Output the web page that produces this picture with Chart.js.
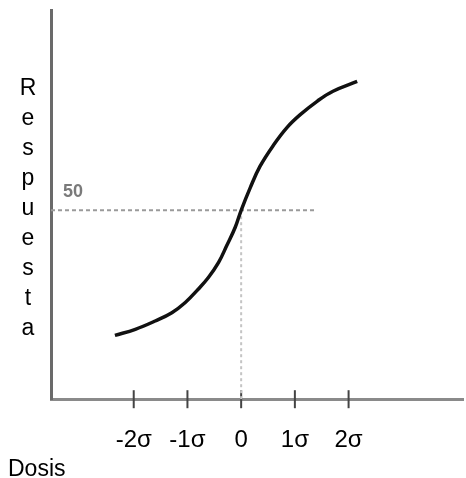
<!DOCTYPE html>
<html>
<head>
<meta charset="utf-8">
<script src="https://cdn.jsdelivr.net/npm/chart.js@4/dist/chart.umd.min.js"></script>
<style>
  html, body { margin: 0; padding: 0; background: #fff; }
  #wrap { position: relative; width: 466px; height: 478px; font-family: 'Liberation Sans', Arial, sans-serif; }
  #chart { position: absolute; left: 0; top: 0; }
  #yTitle { position: absolute; left: 17px; top: 72px; width: 22px; text-align: center; font-size: 23px; line-height: 30px; color: #000; }
  #xTitle { position: absolute; left: 8px; top: 457px; font-size: 23px; line-height: 23px; color: #000; }
  #midLabel { position: absolute; left: 63px; top: 182px; font-size: 18px; line-height: 18px; font-weight: bold; color: #7a7a7a; }
</style>
</head>
<body>
<div id="wrap">
  <canvas id="chart" width="466" height="478"></canvas>
  <div id="yTitle">R<br>e<br>s<br>p<br>u<br>e<br>s<br>t<br>a</div>
  <div id="xTitle">Dosis</div>
  <div id="midLabel">50</div>
</div>
<script>
// dosis en unidades de sigma, respuesta en %
const doseSigma = [-2.35, -1.97, -1.60, -1.29, -1.04, -0.80, -0.61, -0.42, -0.27, -0.11, 0, 0.17, 0.35, 0.60, 0.86, 1.10, 1.42, 1.71, 2.16];
const response = [16.9, 18.5, 20.7, 22.9, 25.6, 29.1, 32.2, 36.2, 40.6, 45.5, 50, 56.0, 61.6, 67.2, 72.0, 75.3, 78.9, 81.5, 84.1];

const tickValues = [-2, -1, 0, 1, 2];
const tickLabels = ['-2σ', '-1σ', '0', '1σ', '2σ'];

const xMin = -3.54;
const xMax = 4.13;
const yMax = 103;
const midResponse = 50;
const midLineEnd = 1.38;

const curve = doseSigma.map((d, i) => ({ x: d, y: response[i] }));

new Chart(document.getElementById('chart'), {
  type: 'line',
  data: {
    datasets: [
      {
        label: 'curva',
        data: curve,
        borderColor: '#111',
        borderWidth: 3.5,
        pointRadius: 0,
        tension: 0.4,
        fill: false
      },
      {
        label: '50h',
        data: [{ x: xMin, y: midResponse }, { x: midLineEnd, y: midResponse }],
        borderColor: '#9a9a9a',
        borderWidth: 2,
        borderDash: [4, 3],
        pointRadius: 0
      },
      {
        label: '50v',
        data: [{ x: 0, y: 0 }, { x: 0, y: midResponse }],
        borderColor: '#c4c4c4',
        borderWidth: 2,
        borderDash: [3, 3],
        pointRadius: 0
      },
      {
        label: 'marcas',
        data: tickValues.map(v => ({ x: v, y: 0 })),
        showLine: false,
        pointStyle: 'line',
        rotation: 90,
        radius: 9,
        borderColor: '#444',
        borderWidth: 2,
        clip: false
      }
    ]
  },
  options: {
    responsive: false,
    animation: false,
    layout: { autoPadding: false, padding: { left: 51, right: 3, top: 10, bottom: -4 } },
    plugins: { legend: { display: false }, tooltip: { enabled: false } },
    scales: {
      x: {
        type: 'linear',
        min: xMin,
        max: xMax,
        afterBuildTicks: (axis) => { axis.ticks = tickValues.map(v => ({ value: v })); },
        grid: { display: false, drawTicks: false },
        border: { display: true, color: '#8a8a8a', width: 3 },
        ticks: {
          padding: 27,
          color: '#000',
          font: { family: "'Liberation Sans', Arial", size: 24 },
          maxRotation: 0,
          autoSkip: false,
          callback: (v) => tickLabels[tickValues.indexOf(v)]
        }
      },
      y: {
        type: 'linear',
        min: 0,
        max: yMax,
        grid: { display: false, drawTicks: false },
        border: { display: true, color: '#6a6a6a', width: 3 },
        ticks: { display: false }
      }
    }
  }
});
</script>
</body>
</html>
